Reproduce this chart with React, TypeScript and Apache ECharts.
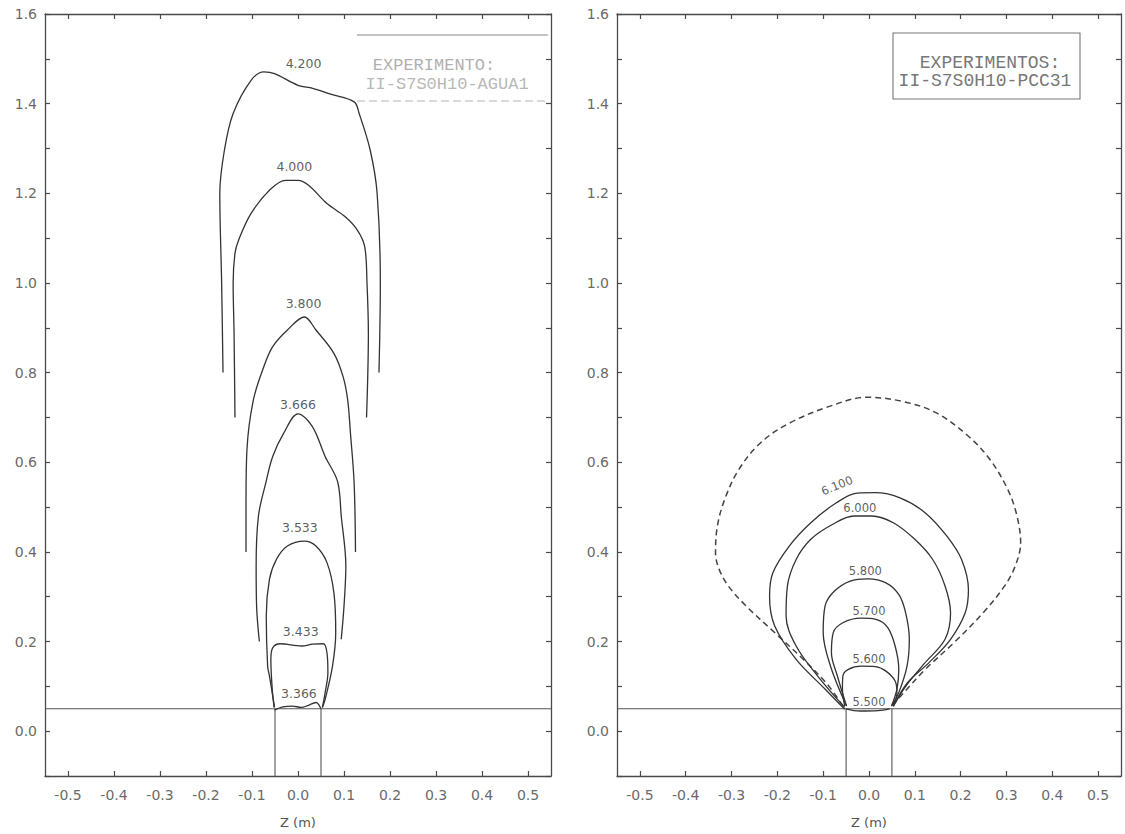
import React, { useEffect, useRef } from "react";
import * as echarts from "echarts";

// ---- axis ticks / labels ----
const xTicks = [-0.5, -0.4, -0.3, -0.2, -0.1, 0, 0.1, 0.2, 0.3, 0.4, 0.5];
const yTicks = [-0.1, 0, 0.1, 0.2, 0.3, 0.4, 0.5, 0.6, 0.7, 0.8, 0.9, 1.0, 1.1, 1.2, 1.3, 1.4, 1.5, 1.6];
const yLabels = [0, 0.2, 0.4, 0.6, 0.8, 1.0, 1.2, 1.4, 1.6];

// ---- geometry common to both panels ----
const baseLine = [[-0.55, 0.05], [0.55, 0.05]];
const nozzleLeft = [[-0.05, -0.1], [-0.05, 0.05]];
const nozzleRight = [[0.05, -0.1], [0.05, 0.05]];

// ---- left panel contours (II-S7S0H10-AGUA1) ----
const c4200 = [[-0.163, 0.8], [-0.166, 1.0], [-0.17, 1.2], [-0.16, 1.296], [-0.141, 1.378], [-0.102, 1.452], [-0.074, 1.471], [-0.051, 1.467], [0.0, 1.441], [0.032, 1.434], [0.071, 1.421], [0.122, 1.404], [0.133, 1.378], [0.157, 1.296], [0.172, 1.2], [0.179, 1.0], [0.176, 0.8]];
const c4000 = [[-0.137, 0.7], [-0.139, 0.888], [-0.141, 1.0], [-0.137, 1.066], [-0.129, 1.096], [-0.102, 1.155], [-0.062, 1.207], [-0.027, 1.229], [0.0, 1.229], [0.023, 1.218], [0.063, 1.177], [0.102, 1.148], [0.129, 1.118], [0.145, 1.081], [0.15, 1.0], [0.153, 0.888], [0.149, 0.7]];
const c3800 = [[-0.113, 0.4], [-0.113, 0.517], [-0.111, 0.628], [-0.097, 0.739], [-0.074, 0.814], [-0.055, 0.858], [-0.023, 0.895], [0.014, 0.924], [0.039, 0.895], [0.078, 0.843], [0.098, 0.791], [0.108, 0.739], [0.114, 0.665], [0.122, 0.554], [0.125, 0.4]];
const c3666 = [[-0.084, 0.2], [-0.09, 0.279], [-0.091, 0.368], [-0.086, 0.48], [-0.07, 0.554], [-0.055, 0.613], [-0.031, 0.665], [0.0, 0.708], [0.031, 0.68], [0.059, 0.613], [0.086, 0.557], [0.094, 0.48], [0.104, 0.368], [0.1, 0.279], [0.094, 0.205]];
const c3533 = [[-0.051, 0.053], [-0.062, 0.123], [-0.066, 0.145], [-0.069, 0.257], [-0.062, 0.339], [-0.047, 0.383], [-0.023, 0.413], [0.014, 0.424], [0.039, 0.413], [0.063, 0.376], [0.078, 0.309], [0.082, 0.22], [0.075, 0.145], [0.059, 0.071], [0.053, 0.053]];
const c3433 = [[-0.052, 0.053], [-0.056, 0.094], [-0.059, 0.16], [-0.055, 0.186], [-0.039, 0.195], [0.008, 0.19], [0.032, 0.194], [0.055, 0.195], [0.063, 0.175], [0.065, 0.131], [0.059, 0.086], [0.053, 0.053]];
const c3366 = [[-0.051, 0.047], [-0.033, 0.054], [-0.012, 0.056], [0.007, 0.053], [0.021, 0.057], [0.039, 0.064], [0.05, 0.05]];
const leftLabels = [
  { name: "4.200", value: [0.012, 1.489] },
  { name: "4.000", value: [-0.008, 1.259] },
  { name: "3.800", value: [0.012, 0.955] },
  { name: "3.666", value: [0.0, 0.728] },
  { name: "3.533", value: [0.004, 0.455] },
  { name: "3.433", value: [0.006, 0.222] },
  { name: "3.366", value: [0.002, 0.084] },
];

// ---- right panel contours (II-S7S0H10-PCC31) ----
const cDashed = [[-0.057, 0.056], [-0.088, 0.101], [-0.143, 0.16], [-0.206, 0.22], [-0.268, 0.279], [-0.307, 0.324], [-0.327, 0.361], [-0.335, 0.398], [-0.331, 0.457], [-0.315, 0.517], [-0.284, 0.584], [-0.237, 0.643], [-0.174, 0.687], [-0.088, 0.724], [-0.004, 0.745], [0.076, 0.735], [0.147, 0.71], [0.217, 0.658], [0.264, 0.606], [0.303, 0.539], [0.323, 0.48], [0.331, 0.42], [0.319, 0.368], [0.296, 0.324], [0.249, 0.264], [0.186, 0.198], [0.123, 0.138], [0.076, 0.086], [0.053, 0.06]];
const c6100 = [[-0.053, 0.049], [-0.096, 0.094], [-0.159, 0.16], [-0.206, 0.235], [-0.217, 0.301], [-0.21, 0.353], [-0.174, 0.413], [-0.127, 0.465], [-0.072, 0.509], [-0.026, 0.531], [0.014, 0.532], [0.069, 0.52], [0.123, 0.487], [0.17, 0.435], [0.202, 0.383], [0.217, 0.316], [0.21, 0.264], [0.178, 0.205], [0.131, 0.153], [0.084, 0.108], [0.053, 0.056]];
const c6000 = [[-0.053, 0.053], [-0.112, 0.123], [-0.159, 0.19], [-0.181, 0.257], [-0.178, 0.324], [-0.159, 0.383], [-0.127, 0.428], [-0.08, 0.461], [-0.033, 0.48], [0.006, 0.48], [0.053, 0.465], [0.1, 0.428], [0.139, 0.383], [0.166, 0.324], [0.178, 0.264], [0.166, 0.205], [0.12, 0.15], [0.08, 0.1], [0.053, 0.055]];
const c5800 = [[-0.049, 0.056], [-0.084, 0.145], [-0.1, 0.22], [-0.096, 0.279], [-0.076, 0.312], [-0.041, 0.335], [-0.002, 0.34], [0.037, 0.331], [0.065, 0.305], [0.08, 0.264], [0.088, 0.205], [0.083, 0.145], [0.065, 0.086], [0.049, 0.056]];
const c5700 = [[-0.049, 0.056], [-0.069, 0.123], [-0.082, 0.175], [-0.078, 0.22], [-0.057, 0.242], [-0.017, 0.252], [0.017, 0.249], [0.041, 0.231], [0.057, 0.19], [0.065, 0.138], [0.061, 0.094], [0.049, 0.056]];
const c5600 = [[-0.053, 0.056], [-0.058, 0.094], [-0.057, 0.123], [-0.045, 0.138], [-0.017, 0.145], [0.014, 0.144], [0.037, 0.134], [0.057, 0.112], [0.061, 0.086], [0.053, 0.056]];
const c5500 = [[-0.05, 0.05], [-0.02, 0.045], [0.02, 0.046], [0.045, 0.05]];
const rightLabels = [
  { name: "6.100", value: [-0.07, 0.548], rotate: 22 },
  { name: "6.000", value: [-0.02, 0.497], rotate: 0 },
  { name: "5.800", value: [-0.008, 0.358], rotate: 0 },
  { name: "5.700", value: [0.0, 0.268], rotate: 0 },
  { name: "5.600", value: [0.0, 0.162], rotate: 0 },
  { name: "5.500", value: [0.0, 0.066], rotate: 0 },
];

const fmt1 = (v: number) => (Math.round(v * 10) / 10).toFixed(1);

const AXIS_COLOR = "#4a4a4a";
const TICK_FONT = "DejaVu Sans";

function xAxisDef(gridIndex: number, position: string, showLabel: boolean) {
  return {
    type: "value",
    gridIndex,
    position,
    min: -0.55,
    max: 0.55,
    axisLine: { show: true, onZero: false, lineStyle: { color: AXIS_COLOR, width: 1.3 } },
    axisTick: { show: true, inside: true, length: 5, customValues: xTicks, lineStyle: { color: AXIS_COLOR, width: 1.2 } },
    axisLabel: { show: showLabel, customValues: xTicks, formatter: fmt1, color: "#6a6a6a", fontSize: 14, fontFamily: TICK_FONT, margin: 12 },
    splitLine: { show: false },
    name: showLabel ? "Z (m)" : "",
    nameLocation: "middle",
    nameGap: 40,
    nameTextStyle: { color: "#555", fontSize: 13, fontFamily: TICK_FONT },
  };
}

function yAxisDef(gridIndex: number, position: string, showLabel: boolean) {
  return {
    type: "value",
    gridIndex,
    position,
    min: -0.1,
    max: 1.6,
    axisLine: { show: true, onZero: false, lineStyle: { color: AXIS_COLOR, width: 1.3 } },
    axisTick: { show: true, inside: true, length: 5, customValues: yTicks, lineStyle: { color: AXIS_COLOR, width: 1.2 } },
    axisLabel: { show: showLabel, customValues: yLabels, formatter: fmt1, color: "#6a6a6a", fontSize: 14, fontFamily: TICK_FONT, margin: 8 },
    splitLine: { show: false },
  };
}

function lineSeries(data: number[][], axis: number, opts: any = {}) {
  return {
    type: "line",
    xAxisIndex: axis,
    yAxisIndex: axis,
    data,
    showSymbol: false,
    symbol: "none",
    smooth: opts.smooth ?? 0.35,
    silent: true,
    lineStyle: { color: opts.color ?? "#333", width: opts.width ?? 1.3, type: opts.type ?? "solid" },
    z: 3,
  };
}

function labelSeries(items: any[], axis: number, fontSize: number) {
  return {
    type: "scatter",
    xAxisIndex: axis,
    yAxisIndex: axis,
    symbolSize: 1,
    silent: true,
    itemStyle: { color: "rgba(0,0,0,0)" },
    data: items.map((d) => ({ name: d.name, value: d.value, label: { rotate: d.rotate ?? 0 } })),
    label: {
      show: true,
      position: "inside",
      formatter: "{b}",
      color: "#333",
      fontSize,
      fontFamily: "DejaVu Sans",
    },
    z: 5,
  };
}

export default function App() {
  const ref = useRef<HTMLDivElement>(null);
  useEffect(() => {
    if (!ref.current) return;
    const chart = echarts.init(ref.current, undefined, { renderer: "svg" });
    const option: any = {
      animation: false,
      backgroundColor: "#fff",
      grid: [
        { left: 45, top: 14, width: 506, height: 763 },
        { left: 617, top: 14, width: 504, height: 763 },
      ],
      xAxis: [xAxisDef(0, "bottom", true), xAxisDef(0, "top", false), xAxisDef(1, "bottom", true), xAxisDef(1, "top", false)],
      yAxis: [yAxisDef(0, "left", true), yAxisDef(0, "right", false), yAxisDef(1, "left", true), yAxisDef(1, "right", false)],
      series: [
        // left panel
        lineSeries(baseLine, 0, { smooth: false, width: 1.1, color: "#555" }),
        lineSeries(nozzleLeft, 0, { smooth: false, width: 1.1, color: "#555" }),
        lineSeries(nozzleRight, 0, { smooth: false, width: 1.1, color: "#555" }),
        lineSeries(c4200, 0),
        lineSeries(c4000, 0),
        lineSeries(c3800, 0),
        lineSeries(c3666, 0),
        lineSeries(c3533, 0),
        lineSeries(c3433, 0),
        lineSeries(c3366, 0),
        labelSeries(leftLabels, 0, 12.5),
        // right panel
        lineSeries(baseLine, 2, { smooth: false, width: 1.1, color: "#555" }),
        lineSeries(nozzleLeft, 2, { smooth: false, width: 1.1, color: "#555" }),
        lineSeries(nozzleRight, 2, { smooth: false, width: 1.1, color: "#555" }),
        lineSeries(cDashed, 2, { type: [6, 4], width: 1.5, color: "#444" }),
        lineSeries(c6100, 2),
        lineSeries(c6000, 2),
        lineSeries(c5800, 2),
        lineSeries(c5700, 2),
        lineSeries(c5600, 2),
        lineSeries(c5500, 2),
        labelSeries(rightLabels, 2, 11.5),
      ],
      graphic: [
        // left panel legend (faded)
        { type: "line", shape: { x1: 357, y1: 35, x2: 548, y2: 35 }, style: { stroke: "#8a8a8a", lineWidth: 1.2 } },
        { type: "line", shape: { x1: 357, y1: 101, x2: 548, y2: 101 }, style: { stroke: "#b5b5b5", lineWidth: 1, lineDash: [8, 4] } },
        { type: "text", style: { text: "EXPERIMENTO:", x: 434, y: 65, font: '17px "Liberation Mono"', fill: "#b0b0b0", textAlign: "center", textVerticalAlign: "middle" } },
        { type: "text", style: { text: "II-S7S0H10-AGUA1", x: 447, y: 84, font: '17px "Liberation Mono"', fill: "#b8b8b8", textAlign: "center", textVerticalAlign: "middle" } },
        // right panel legend
        { type: "rect", shape: { x: 893, y: 33, width: 187, height: 66 }, style: { fill: "none", stroke: "#777", lineWidth: 1.1 } },
        { type: "text", style: { text: "EXPERIMENTOS:", x: 990, y: 63, font: '18px "Liberation Mono"', fill: "#777", textAlign: "center", textVerticalAlign: "middle" } },
        { type: "text", style: { text: "II-S7S0H10-PCC31", x: 985, y: 81, font: '18px "Liberation Mono"', fill: "#777", textAlign: "center", textVerticalAlign: "middle" } },
      ],
    };
    chart.setOption(option);
    return () => chart.dispose();
  }, []);
  return <div ref={ref} style={{ position: "absolute", left: 0, top: 0, width: 1125, height: 834 }} />;
}
